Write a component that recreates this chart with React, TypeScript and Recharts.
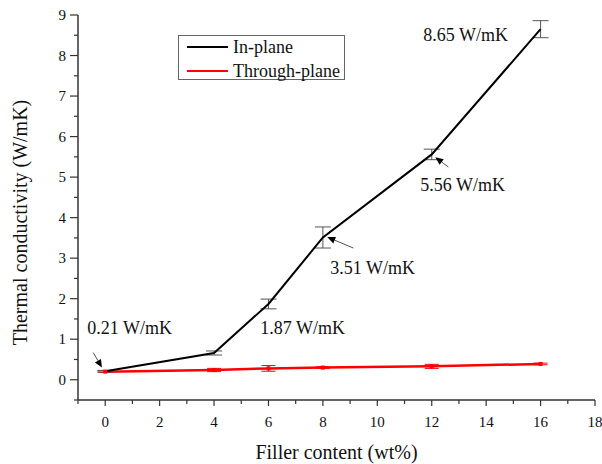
import React from 'react';
import { LineChart, Line, XAxis, YAxis, ErrorBar, ReferenceLine, ReferenceDot, Legend } from 'recharts';

const fillerContent = [0, 4, 6, 8, 12, 16];
const inPlane = [0.21, 0.66, 1.87, 3.51, 5.56, 8.65];
const inPlaneErr = [0.02, 0.05, 0.12, 0.26, 0.13, 0.21];
const throughPlane = [0.2, 0.24, 0.28, 0.3, 0.33, 0.39];
const throughPlaneErr = [0.02, 0.04, 0.07, 0.02, 0.05, 0.02];

const xTicks = [-1, 0, 1, 2, 3, 4, 5, 6, 7, 8, 9, 10, 11, 12, 13, 14, 15, 16, 17, 18];
const yTicks = [-0.5, 0, 0.5, 1, 1.5, 2, 2.5, 3, 3.5, 4, 4.5, 5, 5.5, 6, 6.5, 7, 7.5, 8, 8.5, 9];

const annotationX = [-0.66, 5.7, 8.27, 11.58, 11.69];
const annotationY = [1.28, 1.28, 2.76, 4.8, 8.5];
const annotationText = ['0.21 W/mK', '1.87 W/mK', '3.51 W/mK', '5.56 W/mK', '8.65 W/mK'];

const arrowFromX = [-0.44, 9.12, 12.61];
const arrowFromY = [0.67, 3.25, 5.25];
const arrowToX = [-0.12, 8.16, 12.13];
const arrowToY = [0.3, 3.52, 5.49];

const data = fillerContent.map((x, i) => ({
  x,
  inPlane: inPlane[i],
  inPlaneErr: inPlaneErr[i],
  throughPlane: throughPlane[i],
  throughPlaneErr: throughPlaneErr[i],
}));

const FONT = '"Liberation Serif", "Times New Roman", serif';
const AXIS = '#333';

const XTick = (props: any) => {
  const { x, y, payload } = props;
  const v = payload.value;
  const major = v >= 0 && v % 2 === 0;
  return (
    <g>
      <line x1={x} x2={x} y1={y} y2={y + (major ? 6 : 4)} stroke={AXIS} strokeWidth={1.2} />
      {major && (
        <text x={x} y={y + 22} textAnchor="middle" dominantBaseline="central" fontFamily={FONT} fontSize={15} fill="#111">
          {v}
        </text>
      )}
    </g>
  );
};

const YTick = (props: any) => {
  const { x, y, payload } = props;
  const v = payload.value;
  const major = Number.isInteger(v) && v >= 0;
  return (
    <g>
      <line x1={x} x2={x - (major ? 8 : 4)} y1={y} y2={y} stroke={AXIS} strokeWidth={1.2} />
      {major && (
        <text x={x - 12} y={y} textAnchor="end" dominantBaseline="central" fontFamily={FONT} fontSize={15} fill="#111">
          {v}
        </text>
      )}
    </g>
  );
};

const Arrow = (props: any) => {
  const { x1, y1, x2, y2 } = props;
  const dx = x2 - x1;
  const dy = y2 - y1;
  const len = Math.sqrt(dx * dx + dy * dy) || 1;
  const ux = dx / len;
  const uy = dy / len;
  const hl = 8;
  const hw = 3.5;
  const bx = x2 - ux * hl;
  const by = y2 - uy * hl;
  return (
    <g>
      <line x1={x1} y1={y1} x2={bx} y2={by} stroke="#555" strokeWidth={1} />
      <polygon
        points={`${x2},${y2} ${bx - uy * hw},${by + ux * hw} ${bx + uy * hw},${by - ux * hw}`}
        fill="#000"
      />
    </g>
  );
};

const SquareDot = (props: any) => {
  const { cx, cy } = props;
  if (cx == null || cy == null) return null;
  return <rect x={cx - 2} y={cy - 2} width={4} height={4} fill="#ff0000" />;
};

const LegendBox = () => (
  <div
    style={{
      position: 'relative',
      width: 167,
      height: 45,
      border: '1px solid #666',
      boxSizing: 'border-box',
      background: '#fff',
      fontFamily: FONT,
      fontSize: 18,
      color: '#111',
    }}
  >
    {[
      { label: 'In-plane', color: '#000', top: 11 },
      { label: 'Through-plane', color: '#ff0000', top: 35 },
    ].map((r) => (
      <div key={r.label} style={{ position: 'absolute', left: 8, top: r.top - 11, height: 22, display: 'flex', alignItems: 'center' }}>
        <svg width={42} height={22}>
          <line x1={0} x2={41} y1={11} y2={11} stroke={r.color} strokeWidth={2} />
        </svg>
        <span style={{ marginLeft: 4, lineHeight: '22px', whiteSpace: 'nowrap' }}>{r.label}</span>
      </div>
    ))}
  </div>
);

export default function App() {
  return (
    <div style={{ position: 'absolute', left: 0, top: 0, width: 602, height: 464, background: '#fff' }}>
      <LineChart width={602} height={464} data={data} margin={{ top: 15, right: 7, bottom: 0, left: 8 }}>
        <XAxis
          dataKey="x"
          type="number"
          domain={[-1, 18]}
          ticks={xTicks}
          interval={0}
          tickSize={0}
          tickMargin={0}
          tick={<XTick />}
          stroke={AXIS}
          strokeWidth={1.5}
          height={64}
          allowDataOverflow
          label={{
            content: (p: any) => {
              const vb = p.viewBox || {};
              return (
                <text x={vb.x + vb.width / 2} y={vb.y + 52} textAnchor="middle" dominantBaseline="central" fontFamily={FONT} fontSize={20} fill="#111">
                  Filler content (wt%)
                </text>
              );
            },
          }}
        />
        <XAxis xAxisId="top" orientation="top" type="number" domain={[-1, 18]} tick={false} tickLine={false} height={0} stroke={AXIS} strokeWidth={1.5} />
        <YAxis
          type="number"
          domain={[-0.5, 9]}
          ticks={yTicks}
          interval={0}
          tickSize={0}
          tickMargin={0}
          tick={<YTick />}
          stroke={AXIS}
          strokeWidth={1.5}
          width={70}
          allowDataOverflow
          label={{
            content: (p: any) => {
              const vb = p.viewBox || {};
              const cx = vb.x + 12;
              const cy = vb.y + vb.height / 2 + 15;
              return (
                <text x={cx} y={cy} textAnchor="middle" dominantBaseline="central" fontFamily={FONT} fontSize={20} fill="#111" transform={`rotate(-90 ${cx} ${cy})`}>
                  Thermal conductivity (W/mK)
                </text>
              );
            },
          }}
        />
        <YAxis yAxisId="right" orientation="right" type="number" domain={[-0.5, 9]} tick={false} tickLine={false} width={0} stroke={AXIS} strokeWidth={1.5} />
        <Line
          type="linear"
          dataKey="throughPlane"
          stroke="#ff0000"
          strokeWidth={2.5}
          dot={<SquareDot />}
          activeDot={false}
          isAnimationActive={false}
        >
          <ErrorBar dataKey="throughPlaneErr" width={7} stroke="#ff0000" strokeWidth={1} direction="y" />
        </Line>
        <Line
          type="linear"
          dataKey="inPlane"
          stroke="#000"
          strokeWidth={2}
          dot={false}
          activeDot={false}
          isAnimationActive={false}
        >
          <ErrorBar dataKey="inPlaneErr" width={8} stroke="#555" strokeWidth={1} direction="y" />
        </Line>
        {arrowFromX.map((_, i) => (
          <ReferenceLine
            key={'a' + i}
            segment={[
              { x: arrowFromX[i], y: arrowFromY[i] },
              { x: arrowToX[i], y: arrowToY[i] },
            ]}
            shape={<Arrow />}
            ifOverflow="visible"
          />
        ))}
        {annotationText.map((t, i) => (
          <ReferenceDot
            key={'t' + i}
            x={annotationX[i]}
            y={annotationY[i]}
            ifOverflow="visible"
            shape={(p: any) => (
              <text x={p.cx} y={p.cy} textAnchor="start" dominantBaseline="central" fontFamily={FONT} fontSize={18} fill="#111">
                {t}
              </text>
            )}
          />
        ))}
        <Legend
          layout="vertical"
          align="center"
          verticalAlign="middle"
          wrapperStyle={{ position: 'absolute', left: 178, top: 35, width: 167, height: 45 }}
          content={() => <LegendBox />}
        />
      </LineChart>
    </div>
  );
}
